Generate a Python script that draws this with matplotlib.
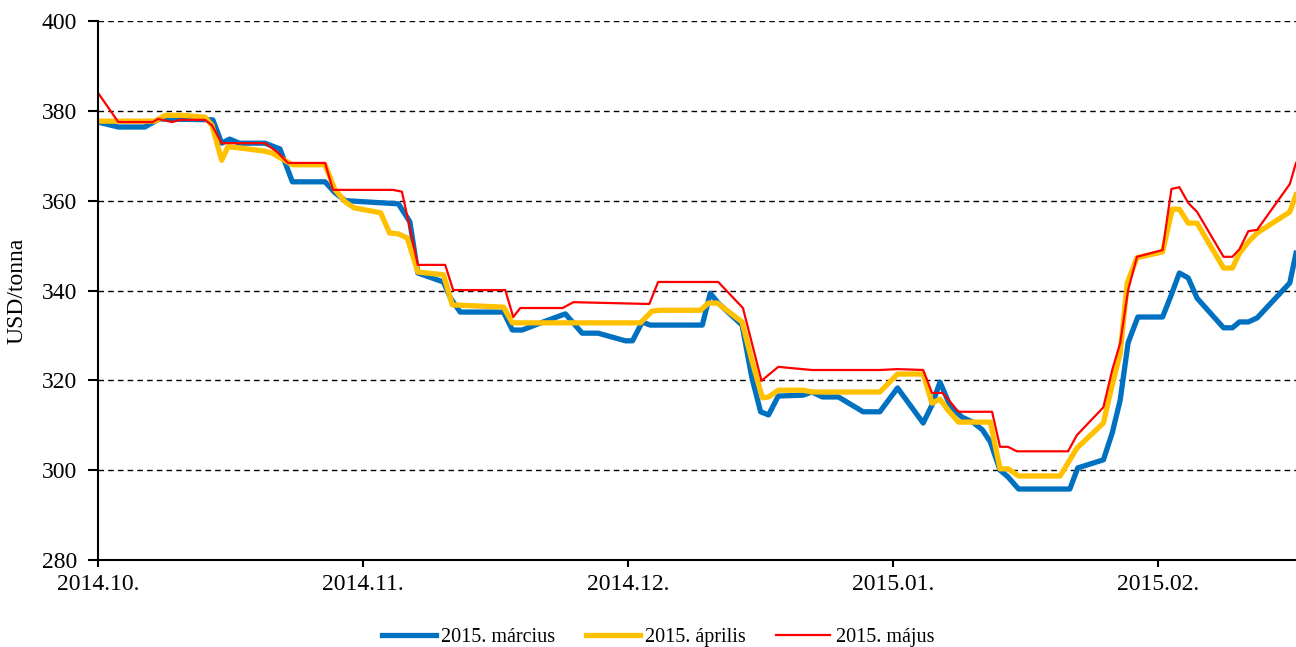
import matplotlib
matplotlib.use("Agg")
import matplotlib.pyplot as plt

# x = days since 2014.10.01 (axis ticks every 30 days)
tick_pos = [0, 30, 60, 90, 120]
tick_labels = ["2014.10.", "2014.11.", "2014.12.", "2015.01.", "2015.02."]

marc_days = [0, 2.3, 5.3, 6.1, 7.0, 13.0, 14.0, 14.9, 16.0, 18.9, 20.6, 22.0, 25.7, 26.8, 28.0,
             34.0, 35.3, 36.2, 39.1, 39.9, 41.0, 45.9, 46.9, 48.0, 50.4, 52.9, 54.8, 56.6, 59.7,
             60.5, 61.6, 62.5, 68.4, 69.3, 70.2, 72.9, 74.0, 75.0, 75.9, 77.0, 79.8, 80.8, 82.0,
             83.8, 86.6, 88.5, 90.5, 93.4, 94.4, 95.3, 96.5, 97.8, 99.0, 100.1, 101.0, 102.1,
             103.0, 104.2, 110.0, 110.9, 113.8, 114.8, 115.7, 116.6, 117.7, 120.5, 121.4, 122.4,
             123.4, 124.4, 127.4, 128.4, 129.2, 130.2, 131.2, 134.9, 135.6]
marc = [377.5, 376.4, 376.4, 377.3, 378.2, 378.0, 372.8, 373.7, 372.8, 372.8, 371.5, 364.2, 364.2,
        361.8, 360.0, 359.3, 355.3, 343.9, 341.9, 338.3, 335.2, 335.2, 331.2, 331.2, 333.0, 334.8,
        330.5, 330.5, 328.8, 328.8, 333.0, 332.3, 332.3, 339.4, 337.2, 332.3, 320.7, 313.0, 312.3,
        316.5, 316.7, 317.4, 316.3, 316.3, 313.0, 313.0, 318.3, 310.5, 314.5, 319.6, 314.1, 311.8,
        310.7, 309.0, 306.3, 300.0, 298.5, 295.8, 295.8, 300.5, 302.3, 308.3, 315.6, 328.4, 334.1,
        334.1, 338.6, 343.9, 342.8, 338.3, 331.7, 331.7, 333.0, 333.0, 333.9, 341.7, 348.3]

apr_days = [0, 6.5, 7.6, 9.5, 12.1, 12.9, 14.0, 14.7, 15.8, 18.9, 19.7, 22.0, 25.7, 26.8, 28.0,
            29.0, 32.0, 33.0, 34.0, 35.0, 36.2, 39.1, 40.1, 45.9, 46.9, 54.6, 61.4, 62.7, 63.6,
            68.2, 69.1, 70.1, 72.9, 74.0, 75.2, 75.9, 77.0, 79.8, 80.8, 88.5, 90.5, 93.4, 94.4,
            95.3, 96.2, 97.4, 101.0, 102.1, 103.0, 104.2, 108.9, 110.8, 113.8, 114.8, 115.7,
            116.5, 117.6, 120.5, 121.6, 122.4, 123.4, 124.4, 127.4, 128.4, 129.2, 130.2, 131.2,
            134.9, 135.6]
apr = [377.7, 377.7, 379.0, 379.0, 378.6, 376.8, 369.0, 372.0, 371.8, 371.0, 370.6, 368.0, 368.0,
       362.5, 359.7, 358.4, 357.3, 352.8, 352.6, 351.7, 344.1, 343.5, 336.8, 336.3, 332.8, 332.8,
       332.8, 335.4, 335.6, 335.6, 337.2, 337.2, 333.0, 324.5, 316.1, 316.3, 317.8, 317.8, 317.4,
       317.4, 321.4, 321.4, 314.9, 315.8, 313.4, 310.7, 310.7, 300.3, 300.3, 298.7, 298.7, 304.9,
       310.5, 319.0, 326.0, 341.7, 347.3, 348.6, 358.1, 358.1, 355.0, 355.0, 345.0, 345.0, 348.3,
       350.8, 352.8, 357.5, 361.3]

maj_days = [0, 2.3, 6.2, 6.8, 8.4, 9.3, 12.1, 12.9, 14.0, 18.9, 20.3, 21.5, 25.7, 26.6, 33.4,
            34.4, 36.2, 39.3, 40.2, 46.1, 47.0, 47.8, 52.6, 53.8, 62.4, 63.4, 70.2, 73.0, 75.1,
            77.0, 80.8, 88.5, 90.5, 93.4, 94.4, 95.6, 97.4, 101.2, 102.1, 103.0, 104.0, 109.8,
            110.8, 113.8, 114.8, 115.7, 116.6, 117.6, 120.5, 121.5, 122.4, 123.4, 124.4, 127.4,
            128.4, 129.2, 130.2, 131.2, 134.9, 135.6]
maj = [384.0, 377.5, 377.5, 378.2, 377.5, 378.0, 378.0, 376.8, 372.8, 372.8, 370.8, 368.4, 368.4,
       362.4, 362.4, 362.0, 345.7, 345.7, 340.1, 340.1, 334.1, 336.1, 336.1, 337.4, 337.0, 341.9,
       341.9, 336.1, 319.9, 323.0, 322.3, 322.3, 322.5, 322.3, 317.2, 317.2, 313.0, 313.0, 305.2,
       305.2, 304.2, 304.2, 307.8, 314.0, 322.3, 328.3, 340.1, 347.5, 349.0, 362.6, 363.0, 359.5,
       357.5, 347.5, 347.5, 349.2, 353.2, 353.5, 363.7, 368.4]

plt.rcParams['font.family'] = ['Liberation Serif', 'DejaVu Serif']

fig = plt.figure(figsize=(12.96, 6.47), dpi=100)
ax = fig.add_axes([98 / 1296, 1 - 560 / 647, 1 - 98 / 1296, (560 - 21) / 647])

for y in [300, 320, 340, 360, 380, 400]:
    ax.axhline(y, color='black', lw=1.0, ls=(0, (4, 3)), zorder=1)

ax.plot(marc_days, marc, color='#0070C0', lw=3.8, label='2015. március', zorder=3,
        solid_joinstyle='round')
ax.plot(apr_days, apr, color='#FFC000', lw=3.8, label='2015. április', zorder=4,
        solid_joinstyle='round')
ax.plot(maj_days, maj, color='#FF0000', lw=1.6, label='2015. május', zorder=5)

ax.set_xlim(0, 135.6)
ax.set_ylim(280, 400)
ax.set_yticks(range(280, 401, 20))
ax.set_xticks(tick_pos)
ax.set_xticklabels(tick_labels)
ax.tick_params(axis='both', labelsize=17, direction='out', width=1.5, color='black')
ax.tick_params(axis='y', length=7, pad=8)
ax.tick_params(axis='x', length=5, pad=5)
for s in ['top', 'right']:
    ax.spines[s].set_visible(False)
for s in ['left', 'bottom']:
    ax.spines[s].set_linewidth(1.5)
    ax.spines[s].set_zorder(6)

ax.set_ylabel('USD/tonna', fontsize=17, labelpad=10)

fig.legend(loc='center', bbox_to_anchor=(658 / 1296, 1 - 637 / 647), ncol=3, frameon=False,
           fontsize=14.5, handlelength=2.7, handletextpad=0.25, columnspacing=1.5)

fig.savefig('out.png', dpi=100)
